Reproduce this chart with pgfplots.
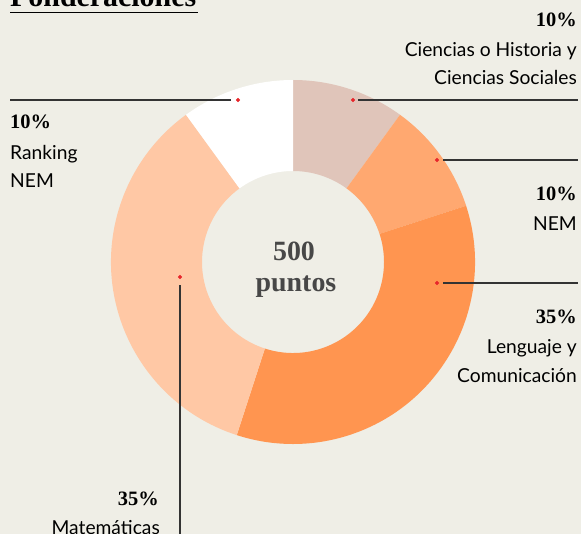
\documentclass[border=0pt]{standalone}
\usepackage{pgfplots}
\pgfplotsset{compat=1.18}
\usepackage{fontspec}
\setmainfont{Lato}
\newfontfamily\lab{Lato}
\newfontfamily\ser{Liberation Serif}
\definecolor{bg}{HTML}{EFEEE6}
\definecolor{cCien}{HTML}{E0C5BA}
\definecolor{cNem}{HTML}{FFA870}
\definecolor{cLen}{HTML}{FF9550}
\definecolor{cMat}{HTML}{FFC8A5}
\definecolor{cRan}{HTML}{FFFFFF}
\definecolor{dot}{HTML}{E8262B}
\definecolor{ln}{HTML}{333333}
\definecolor{ctr}{HTML}{474747}
% slice shares (percent): Ciencias 10, NEM 10, Lenguaje 35, Matematicas 35, Ranking 10
\newcommand{\slice}[3]{% color, start angle, end angle
  \fill[#1] ([shift={(#2:182bp)}]axis cs:293,262) arc[start angle=#2, end angle=#3, radius=182bp]
    -- ([shift={(#3:91bp)}]axis cs:293,262) arc[start angle=#3, end angle=#2, radius=91bp] -- cycle;}
\begin{document}
\begin{tikzpicture}
\fill[bg] (0,0) rectangle (581bp,534bp);
\begin{axis}[at={(0,0)}, anchor=south west, scale only axis, width=581bp, height=534bp,
  xmin=0, xmax=581, ymin=0, ymax=534, y dir=reverse, hide axis, clip=false]
% cumulative angles: 90 - 3.6*cumulative percent
\slice{cCien}{90}{54}
\slice{cNem}{54}{18}
\slice{cLen}{18}{-108}
\slice{cMat}{-108}{-234}
\slice{cRan}{-234}{-270}
% leader lines
\addplot[ln, line width=1.2bp] coordinates {(358,100) (578,100)};
\addplot[ln, line width=1.2bp] coordinates {(10,100) (231,100)};
\addplot[ln, line width=1.2bp] coordinates {(443,160) (578,160)};
\addplot[ln, line width=1.2bp] coordinates {(443,283) (578,283)};
\addplot[ln, line width=1.2bp] coordinates {(180,285) (180,534)};
% dots
\addplot[only marks, mark=*, mark size=1.9bp, dot, mark options={draw=dot}] coordinates {(353,100) (238,100) (437,160) (437,283) (180,277)};
% title
\node[anchor=base west, font=\ser\bfseries\fontsize{30}{30}\selectfont, inner sep=0pt] (t) at (axis cs:10,7) {Ponderaciones};
\draw[black, line width=1.5bp] (axis cs:10,12.5) -- (axis cs:198,12.5);
% center
\node[anchor=base, font=\ser\bfseries\fontsize{28}{28}\selectfont, text=ctr, inner sep=0pt] at (axis cs:294,260) {500};
\node[anchor=base, font=\ser\bfseries\fontsize{28}{28}\selectfont, text=ctr, inner sep=0pt] at (axis cs:296,291) {puntos};
% labels
\tikzset{pct/.style={font=\ser\bfseries\fontsize{20.5}{20.5}\selectfont, inner sep=0pt},
         lb/.style={font=\lab\fontsize{19.3}{19.3}\selectfont, inner sep=0pt}}
\node[pct, anchor=base east] at (axis cs:577,27) {10\%};
\node[lb, anchor=base east] at (axis cs:577,57) {Ciencias o Historia y};
\node[lb, anchor=base east] at (axis cs:577,85) {Ciencias Sociales};
\node[pct, anchor=base west] at (axis cs:10,128) {10\%};
\node[lb, anchor=base west] at (axis cs:10,159) {Ranking};
\node[lb, anchor=base west] at (axis cs:10,187) {NEM};
\node[pct, anchor=base east] at (axis cs:577,200) {10\%};
\node[lb, anchor=base east] at (axis cs:577,230) {NEM};
\node[pct, anchor=base east] at (axis cs:577,323) {35\%};
\node[lb, anchor=base east] at (axis cs:577,353) {Lenguaje y};
\node[lb, anchor=base east] at (axis cs:577,382) {Comunicación};
\node[pct, anchor=base east] at (axis cs:159,505) {35\%};
\node[lb, anchor=base east] at (axis cs:160,534) {Matemáticas};
\end{axis}
\pgfresetboundingbox
\path[use as bounding box] (0,0) rectangle (581bp,534bp);
\end{tikzpicture}
\end{document}
